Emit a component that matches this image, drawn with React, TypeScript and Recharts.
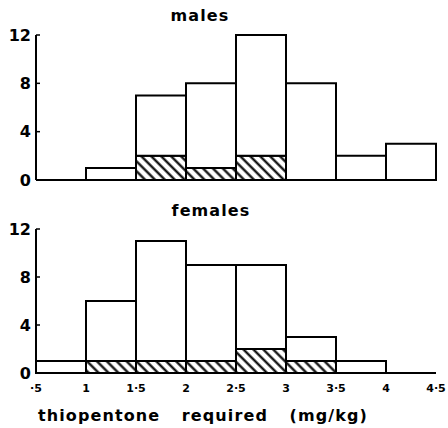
import React from 'react';
import { BarChart, Bar, XAxis, YAxis } from 'recharts';

const bins = ['0.5-1', '1-1.5', '1.5-2', '2-2.5', '2.5-3', '3-3.5', '3.5-4', '4-4.5'];
const binMids = [0.75, 1.25, 1.75, 2.25, 2.75, 3.25, 3.75, 4.25];
const malesTotal = [0, 1, 7, 8, 12, 8, 2, 3];
const malesHatched = [0, 0, 2, 1, 2, 0, 0, 0];
const femalesTotal = [1, 6, 11, 9, 9, 3, 1, 0];
const femalesHatched = [0, 1, 1, 1, 2, 1, 0, 0];
const xTicks = [0.5, 1, 1.5, 2, 2.5, 3, 3.5, 4, 4.5];
const xTickLabels = ['·5', '1', '1·5', '2', '2·5', '3', '3·5', '4', '4·5'];
const yTicks = [0, 4, 8, 12];

const FONT = '"DejaVu Sans", sans-serif';

function buildRows(total: number[], hatched: number[]) {
  return bins.map((b, i) => ({
    bin: b,
    mid: binMids[i],
    hatched: hatched[i],
    rest: total[i] - hatched[i],
  }));
}

type PanelProps = {
  total: number[];
  hatched: number[];
  top: number;
  height: number;
  marginTop: number;
  marginBottom: number;
  showXTicks: boolean;
};

function Panel({ total, hatched, top, height, marginTop, marginBottom, showXTicks }: PanelProps) {
  const data = buildRows(total, hatched);
  return (
    <div style={{ position: 'absolute', left: 0, top, width: 448, height }}>
      <BarChart
        width={448}
        height={height}
        data={data}
        margin={{ top: marginTop, right: 12, bottom: marginBottom, left: 0 }}
        barCategoryGap={0}
        barGap={0}
      >
        <XAxis
          xAxisId="num"
          type="number"
          dataKey="mid"
          domain={[0.5, 4.5]}
          ticks={xTicks}
          allowDataOverflow
          interval={0}
          height={20}
          tickLine={false}
          axisLine={{ stroke: '#000', strokeWidth: 2 }}
          tickMargin={5}
          tick={showXTicks ? { fill: '#000', fontSize: 11, fontWeight: 'bold', fontFamily: FONT } : false}
          tickFormatter={(v: number) => xTickLabels[xTicks.indexOf(v)] ?? ''}
        />
        <XAxis xAxisId="cat" dataKey="bin" hide height={0} />
        <YAxis
          domain={[0, 12]}
          ticks={yTicks}
          interval={0}
          width={36}
          axisLine={{ stroke: '#000', strokeWidth: 2 }}
          tickLine={{ stroke: '#000', strokeWidth: 1.5 }}
          tickSize={-4}
          tickMargin={9}
          tick={{ fill: '#000', fontSize: 16, fontWeight: 'bold', fontFamily: FONT }}
        />
        <Bar
          xAxisId="cat"
          dataKey="hatched"
          stackId="s"
          fill="url(#hatch)"
          stroke="#000"
          strokeWidth={2}
          isAnimationActive={false}
        />
        <Bar
          xAxisId="cat"
          dataKey="rest"
          stackId="s"
          fill="#fff"
          stroke="#000"
          strokeWidth={2}
          isAnimationActive={false}
        />
      </BarChart>
    </div>
  );
}

const titleStyle: React.CSSProperties = {
  position: 'absolute',
  fontFamily: FONT,
  fontWeight: 'bold',
  fontSize: 16,
  letterSpacing: 1.1,
  lineHeight: '20px',
  color: '#000',
  whiteSpace: 'pre',
};

export default function App() {
  return (
    <div style={{ position: 'absolute', left: 0, top: 0, width: 448, height: 428, background: '#fff', overflow: 'hidden' }}>
      <svg width={0} height={0} style={{ position: 'absolute' }}>
        <defs>
          <pattern id="hatch" patternUnits="userSpaceOnUse" width={7} height={7} patternTransform="rotate(-45)">
            <rect x={0} y={0} width={7} height={7} fill="#fff" />
            <line x1={3.5} y1={0} x2={3.5} y2={7} stroke="#000" strokeWidth={2.2} />
          </pattern>
        </defs>
      </svg>
      <Panel
        total={malesTotal}
        hatched={malesHatched}
        top={0}
        height={200}
        marginTop={35}
        marginBottom={0}
        showXTicks={false}
      />
      <Panel
        total={femalesTotal}
        hatched={femalesHatched}
        top={200}
        height={228}
        marginTop={29}
        marginBottom={35}
        showXTicks={true}
      />
      <div style={{ ...titleStyle, left: 150, width: 100, top: 6, textAlign: 'center' }}>males</div>
      <div style={{ ...titleStyle, left: 151, width: 120, top: 201, textAlign: 'center' }}>females</div>
      <div style={{ ...titleStyle, left: 38, top: 406, wordSpacing: 15 }}>thiopentone required (mg/kg)</div>
    </div>
  );
}
